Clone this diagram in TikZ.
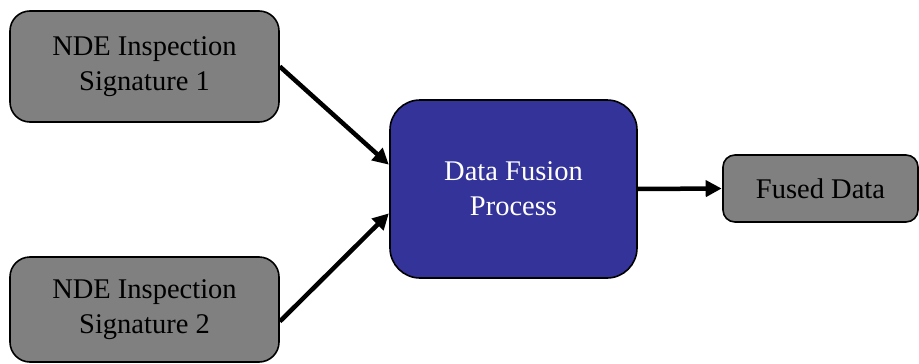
\documentclass[tikz,border=0pt]{standalone}
\usepackage{fontspec}
\setmainfont{Liberation Serif}
\usetikzlibrary{arrows.meta}
\definecolor{boxgray}{HTML}{808080}
\definecolor{fusionblue}{HTML}{333399}
\begin{document}
\begin{tikzpicture}[x=1pt,y=-1pt,
  block/.style={draw=black, line width=1.6pt, align=center, inner sep=0pt,
    font=\fontsize{28.5}{35}\selectfont},
  graybox/.style={block, fill=boxgray, text=black},
  bluebox/.style={block, fill=fusionblue, text=white},
  flow/.style={line width=4.5pt, -{Triangle[length=16pt,width=16pt]}, shorten >=0.5pt}]
  \useasboundingbox (0,0) rectangle (919,364);
  \node[graybox, rounded corners=20pt, minimum width=269pt, minimum height=111pt]
    (sig1) at (144.5,66.5) {NDE Inspection\\Signature 1};
  \node[graybox, rounded corners=20pt, minimum width=269pt, minimum height=105pt]
    (sig2) at (144.5,309.5) {NDE Inspection\\Signature 2};
  \node[bluebox, rounded corners=30pt, minimum width=247pt, minimum height=178pt]
    (fusion) at (513.5,189) {Data Fusion\\Process};
  \node[graybox, rounded corners=12pt, minimum width=195pt, minimum height=67pt]
    (fused) at (820.5,188.5) {Fused Data};
  \draw[flow] (sig1.east) -- ([yshift=24pt]fusion.west);
  \draw[flow] ([yshift=-12pt]sig2.east) -- ([yshift=-24pt]fusion.west);
  \draw[flow] (fusion.east) -- (fused.west);
\end{tikzpicture}
\end{document}
